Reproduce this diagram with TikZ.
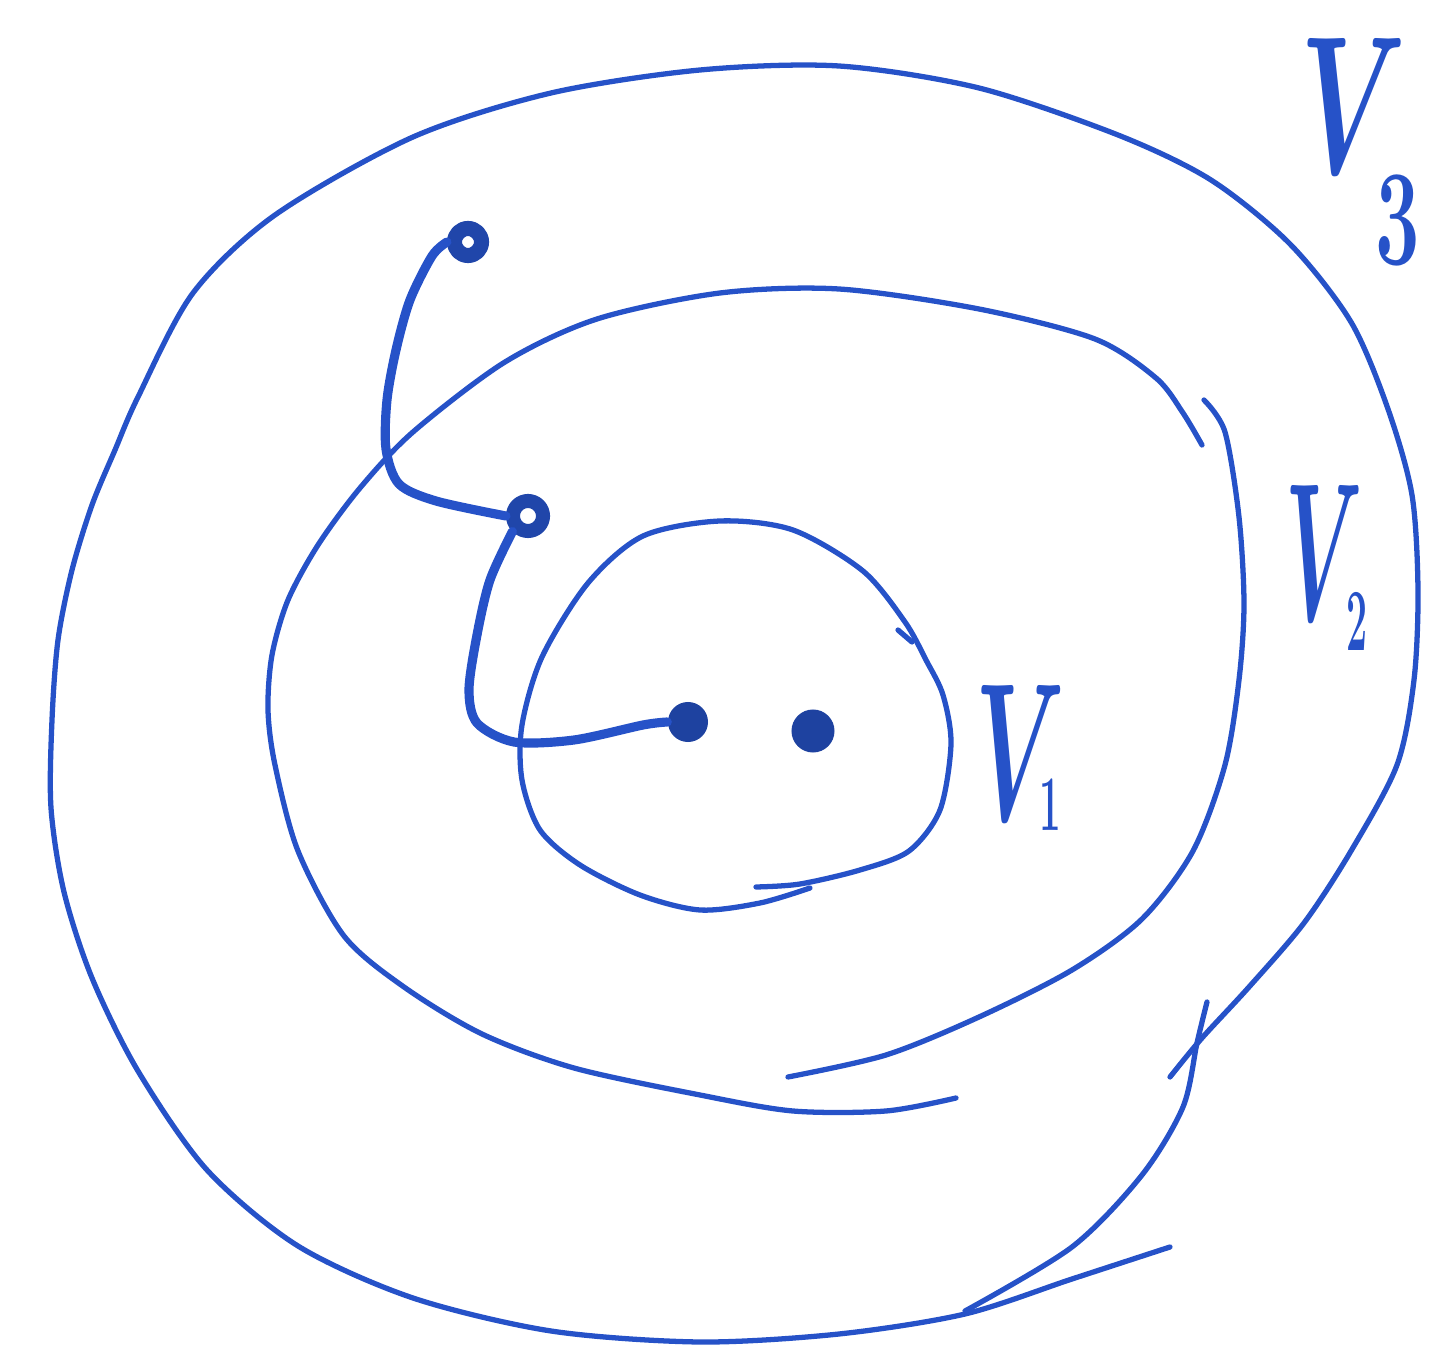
\documentclass[tikz,border=0pt]{standalone}
\definecolor{ink}{RGB}{38,82,200}
\begin{document}
\begin{tikzpicture}[x=0.01cm,y=-0.01cm,line cap=round,line join=round,
  pen/.style={ink,line width=1.5pt},
  wire/.style={ink,line width=2.6pt},
  ring/.style={circle,draw=ink!85!black,line width=4.3pt,minimum size=0.27cm,inner sep=0pt},
  dot/.style={circle,fill=ink!80!black,minimum size=0.4cm,inner sep=0pt},
  lab/.style={ink,anchor=base west,inner sep=0pt,font=\Huge\boldmath,yscale=2.25}]
\useasboundingbox (0,0) rectangle (1429,1349);
% outer region V3
\draw[pen] plot[smooth] coordinates {(1170,1247) (1072,1279) (965,1314) (839,1334) (700,1342) (551,1331) (413,1298) (298,1246) (207,1170) (138,1071) (92,978) (64,892) (51,808) (52,720) (58,640) (72,570) (92,505) (115,450) (138,397) (193,293) (275,215) (413,137) (551,93) (700,70) (839,66) (979,88) (1118,135) (1211,180) (1290,244) (1351,322) (1388,409) (1412,495) (1418,590) (1414,680) (1397,765) (1351,851) (1304,923) (1249,987) (1202,1038) (1170,1077)};
\draw[pen] plot[smooth] coordinates {(1207,1002) (1197,1043) (1183,1107) (1142,1175) (1072,1247) (965,1311)};
% middle region V2
\draw[pen] plot[smooth] coordinates {(956,1098) (886,1111) (793,1111) (700,1095) (574,1068) (482,1034) (404,987) (344,936) (298,851) (275,765) (268,710) (272,655) (288,600) (318,545) (360,488) (413,432) (505,362) (597,319) (720,293) (839,289) (979,309) (1095,339) (1156,378) (1183,413) (1202,445)};
\draw[pen] plot[smooth] coordinates {(1204,400) (1225,432) (1239,517) (1244,604) (1239,680) (1225,765) (1193,851) (1142,919) (1072,970) (979,1017) (886,1055) (788,1077)};
% inner region V1
\draw[pen] plot[smooth] coordinates {(756,887) (800,884) (860,870) (909,851) (940,810) (951,744) (943,695) (926,660) (905,622) (863,571) (793,530) (720,521) (643,536) (588,583) (542,657) (522,725) (522,780) (540,830) (580,865) (640,895) (700,910) (760,903) (810,888)};
\draw[pen] (898,630) -- (912,642);
% points
\node[ring] (tl) at (468,242) {};
\node[ring,minimum size=0.3cm,line width=4pt] (ml) at (528,516) {};
\node[dot] (d1) at (688,722) {};
\node[dot,minimum width=0.4cm,minimum height=0.43cm] (d2) at (813,731) {};
% path through the regions
\draw[wire] plot[smooth] coordinates {(tl.west) (432,256) (410,300) (396,350) (387,400) (386,449) (399,484) (436,501) (ml.west)};
\draw[wire] plot[smooth] coordinates {(ml.south west) (490,580) (477,635) (469,690) (477,723) (514,742) (574,740) (643,725) (d1.west)};
% labels
\node[lab,xscale=1.3] (v3) at (1300,174) {$V\kern-0.28em{}_{\raisebox{-0.31em}{$\scriptscriptstyle 3$}}$};
\node[lab,xscale=0.95] (v2) at (1285,621) {$V\kern-0.2em{}_{\scalebox{0.45}{$2$}}$};
\node[lab,xscale=1.1] (v1) at (975,821) {$V\kern-0.27em{}_{\raisebox{0.1em}{\scalebox{0.4}{$1$}}}$};
\end{tikzpicture}
\end{document}
